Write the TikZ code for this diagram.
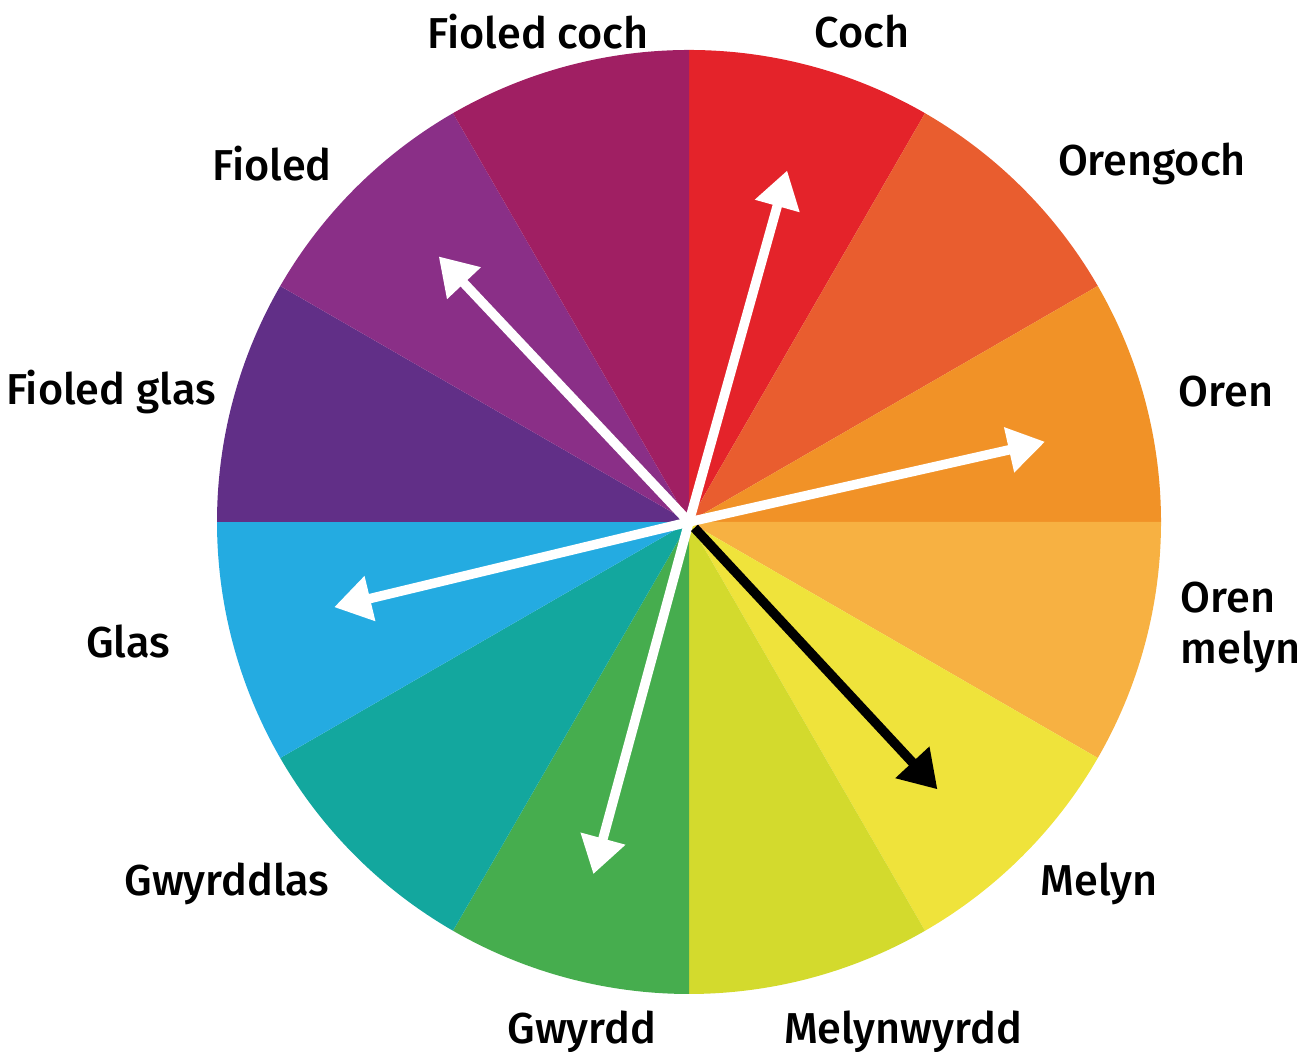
\documentclass[tikz,border=0pt]{standalone}
\usepackage{fontspec}
\setmainfont{Fira Sans}[UprightFont=* Medium]
\usetikzlibrary{arrows.meta,calc}

\definecolor{coch}{HTML}{E4232A}
\definecolor{orengoch}{HTML}{E95D2F}
\definecolor{oren}{HTML}{F19227}
\definecolor{orenmelyn}{HTML}{F7B142}
\definecolor{melyn}{HTML}{EFE33B}
\definecolor{melynwyrdd}{HTML}{D3DA2D}
\definecolor{gwyrdd}{HTML}{46AD4E}
\definecolor{gwyrddlas}{HTML}{13A79E}
\definecolor{glas}{HTML}{24ABE1}
\definecolor{fioledglas}{HTML}{612F87}
\definecolor{fioled}{HTML}{8A2F87}
\definecolor{fioledcoch}{HTML}{A01F63}

\begin{document}
\begin{tikzpicture}[line cap=butt, line join=miter]
  \def\R{4.72} % radiws yr olwyn
  \def\L{3.65} % hyd y saethau
  \tikzset{
    label/.style={font=\fontsize{12.3}{14.5}\selectfont, text=black, inner sep=0pt},
    pointer/.style={line width=2.7pt, draw=white, -{Triangle[length=10.5pt, width=12.5pt]}},
    pointer_dark/.style={line width=2.7pt, draw=black, -{Triangle[length=10.5pt, width=12.5pt]}}
  }
  \useasboundingbox (0, 0) rectangle (13.11, 10.52);

  \coordinate (c) at (6.89, 5.30);

  % 12 sector
  \foreach \col [count=\i from 0] in {coch, orengoch, oren, orenmelyn, melyn, melynwyrdd,
      gwyrdd, gwyrddlas, glas, fioledglas, fioled, fioledcoch}
    \fill[\col] (c) -- ++(90-30*\i:\R) arc[start angle=90-30*\i, end angle=60-30*\i, radius=\R] -- cycle;

  % pennau'r saethau
  \path (c) ++(74.4:\L) coordinate (tcoch);
  \path (c) ++(12.7:\L) coordinate (toren);
  \path (c) ++(193.5:\L) coordinate (tglas);
  \path (c) ++(254.8:\L) coordinate (tgwyrdd);
  \path (c) ++(133.3:\L) coordinate (tfioled);
  \path (c) ++(-47.1:\L) coordinate (tmelyn);
  \path (c) ++(-47.1:0.08) coordinate (cmelyn);

  % saethau
  \draw[pointer] (c) -- (tcoch);
  \draw[pointer] (c) -- (toren);
  \draw[pointer] (c) -- (tglas);
  \draw[pointer] (c) -- (tgwyrdd);
  \draw[pointer] (c) -- (tfioled);
  \draw[pointer_dark] (cmelyn) -- (tmelyn);

  % labeli
  \node[label] (lfioledcoch) at (5.38, 10.20) {Fioled coch};
  \node[label] (lcoch) at (8.62, 10.20) {Coch};
  \node[label] (lorengoch) at (11.52, 8.88) {Orengoch};
  \node[label] (lfioled) at (2.72, 8.88) {Fioled};
  \node[label] (loren) at (12.26, 6.60) {Oren};
  \node[label] (lfioledglas) at (1.11, 6.60) {Fioled glas};
  \node[label, align=left, anchor=west] (lorenmelyn) at (11.80, 4.25) {Oren\\melyn};
  \node[label] (lglas) at (1.28, 4.10) {Glas};
  \node[label] (lmelyn) at (10.99, 1.68) {Melyn};
  \node[label] (lgwyrddlas) at (2.27, 1.68) {Gwyrddlas};
  \node[label] (lgwyrdd) at (5.82, 0.20) {Gwyrdd};
  \node[label] (lmelynwyrdd) at (9.03, 0.20) {Melynwyrdd};
\end{tikzpicture}
\end{document}
